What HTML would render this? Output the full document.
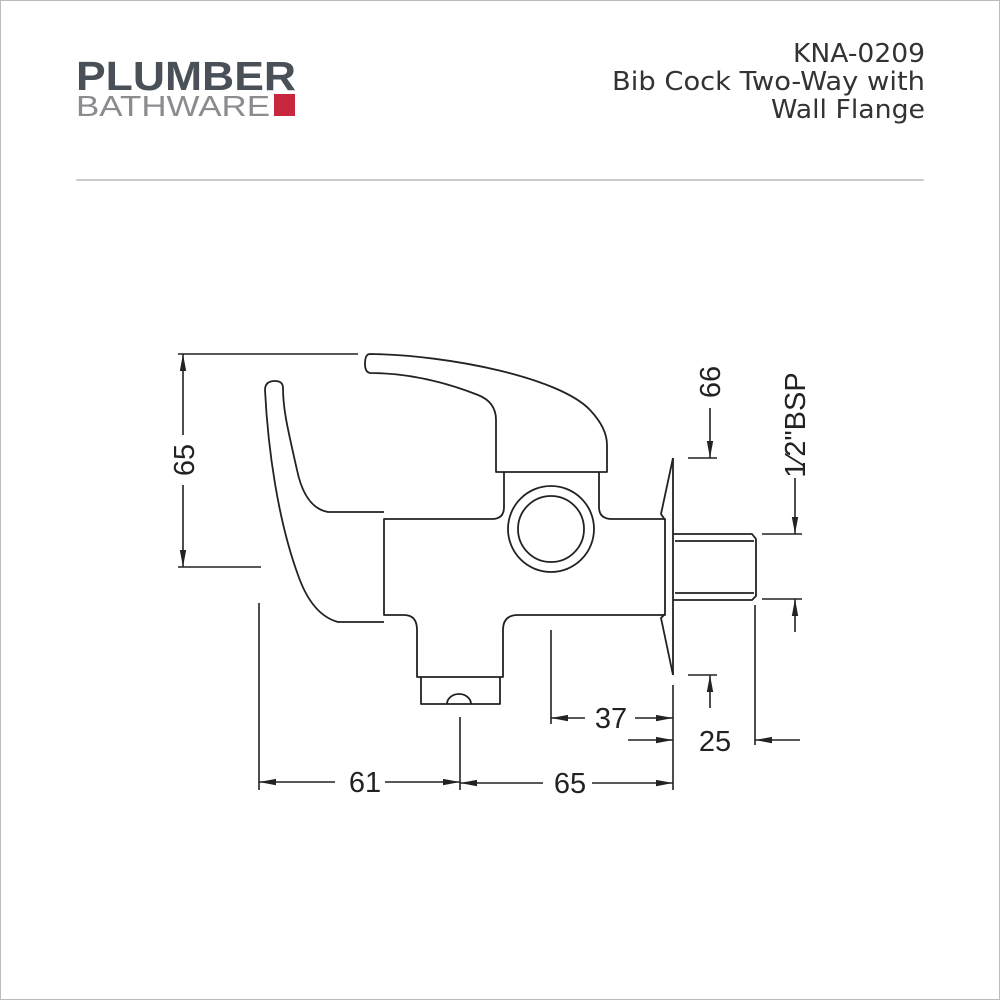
<!DOCTYPE html>
<html><head><meta charset="utf-8"><style>
html,body{margin:0;padding:0;background:#fff}
svg{display:block}
</style></head><body>
<svg width="1000" height="1000" viewBox="0 0 1000 1000" xmlns="http://www.w3.org/2000/svg">
<defs>
<marker id="a" viewBox="0 0 16 6" refX="16" refY="3" markerWidth="17" markerHeight="7" markerUnits="userSpaceOnUse" orient="auto"><path d="M0,0 L16,3 L0,6 Z" fill="#222"/></marker>
</defs>
<rect x="0.5" y="0.5" width="999" height="999" fill="#fff" stroke="#bbb"/>
<text x="76" y="90" font-family="Liberation Sans, sans-serif" font-weight="bold" font-size="41" fill="#4a5058" textLength="220" lengthAdjust="spacingAndGlyphs">PLUMBER</text>
<text x="76" y="116" font-family="Liberation Sans, sans-serif" font-size="29" fill="#8a8c8f" textLength="194" lengthAdjust="spacingAndGlyphs">BATHWARE</text>
<rect x="274" y="94" width="21" height="22" fill="#c8283f"/>
<g font-family="DejaVu Sans, Liberation Sans, sans-serif" font-size="26" fill="#333">
<text x="793" y="62" textLength="132" lengthAdjust="spacingAndGlyphs">KNA-0209</text>
<text x="612" y="90" textLength="313" lengthAdjust="spacingAndGlyphs">Bib Cock Two-Way with</text>
<text x="771" y="118" textLength="154" lengthAdjust="spacingAndGlyphs">Wall Flange</text>
</g>
<line x1="76" y1="180" x2="924" y2="180" stroke="#ccc" stroke-width="2"/>

<g fill="none" stroke="#222" stroke-width="1.8" stroke-linejoin="round">
<path d="M370,354 C450,355 560,378 590,410 Q607,428 607,445 L607,472 L496,472 L496,420 Q496,402 478,395 C440,380 405,373 370,373 Q365,372 365,364 Q365,354 370,354 Z"/>
<path d="M504,472 L504,507 Q504,519 492,519 L384,519 L384,615 L404,615 Q417,615 417,630 L417,677 L503,677 L503,630 Q503,615 518,615 L665,615 L665,519 L612,519 Q599,519 599,507 L599,472"/>
<path d="M384,512 L328,512 Q305,508 297,470 C288,430 283,410 283,388 Q283,381 275,381 Q265,381 265,390 C268,450 278,520 298,575 Q312,615 338,622 L384,622"/>
<path d="M421,677 L421,704 L500,704 L500,677"/>
<path d="M447,704 A12,10 0 0 1 471,704"/>
<circle cx="551" cy="529" r="43"/>
<circle cx="551" cy="529" r="33"/>
<path d="M673,458 L673,675"/>
<path d="M673,458 L661,514 L665,520 M665,614 L661,618 L673,675"/>
<path d="M673,534 L752,534 L756,539 L756,596 L752,600 L673,600"/>
<path d="M675,541 L754,541 M675,593 L754,593"/>
</g>

<g stroke="#222" stroke-width="1.6" fill="none">
<line x1="178" y1="354" x2="358" y2="354"/>
<line x1="178" y1="567" x2="261" y2="567"/>
<line x1="183" y1="435" x2="183" y2="354" marker-end="url(#a)"/>
<line x1="183" y1="485" x2="183" y2="567" marker-end="url(#a)"/>
<line x1="688" y1="458" x2="717" y2="458"/>
<line x1="710" y1="408" x2="710" y2="458" marker-end="url(#a)"/>
<line x1="762" y1="534" x2="802" y2="534"/>
<line x1="762" y1="599" x2="802" y2="599"/>
<line x1="795" y1="478" x2="795" y2="534" marker-end="url(#a)"/>
<line x1="795" y1="632" x2="795" y2="599" marker-end="url(#a)"/>
<line x1="688" y1="675" x2="717" y2="675"/>
<line x1="710" y1="708" x2="710" y2="675" marker-end="url(#a)"/>
<line x1="755" y1="605" x2="755" y2="745"/>
<line x1="800" y1="740" x2="755" y2="740" marker-end="url(#a)"/>
<line x1="628" y1="740" x2="673" y2="740" marker-end="url(#a)"/>
<line x1="673" y1="685" x2="673" y2="790"/>
<line x1="551" y1="630" x2="551" y2="724"/>
<line x1="585" y1="718" x2="551" y2="718" marker-end="url(#a)"/>
<line x1="635" y1="718" x2="673" y2="718" marker-end="url(#a)"/>
<line x1="259" y1="603" x2="259" y2="790"/>
<line x1="460" y1="717" x2="460" y2="790"/>
<line x1="335" y1="782" x2="259" y2="782" marker-end="url(#a)"/>
<line x1="385" y1="782" x2="460" y2="782" marker-end="url(#a)"/>
<line x1="543" y1="783" x2="460" y2="783" marker-end="url(#a)"/>
<line x1="592" y1="783" x2="673" y2="783" marker-end="url(#a)"/>
</g>

<g font-family="Liberation Sans, sans-serif" font-size="29" fill="#222">
<text x="365" y="792" text-anchor="middle">61</text>
<text x="570" y="793" text-anchor="middle">65</text>
<text x="611" y="728" text-anchor="middle">37</text>
<text x="715" y="751" text-anchor="middle">25</text>
<text transform="translate(194,460) rotate(-90)" text-anchor="middle">65</text>
<text transform="translate(720,382) rotate(-90)" text-anchor="middle">66</text>
<text transform="translate(805,425) rotate(-90)" text-anchor="middle">1⁄2"BSP</text>
</g>
</svg>
</body></html>
